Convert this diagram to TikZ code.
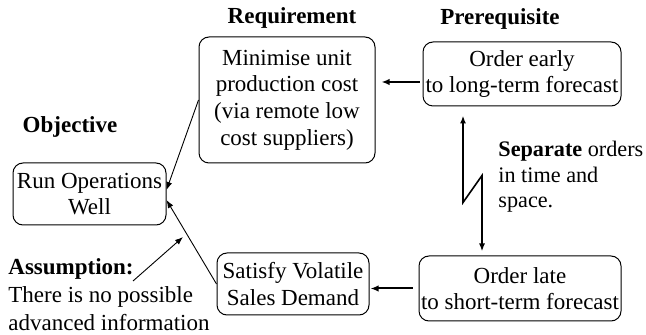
\documentclass[tikz,border=0pt]{standalone}
\usepackage{fontspec}
\setmainfont{Liberation Serif}
\usetikzlibrary{arrows.meta}
\begin{document}
\begin{tikzpicture}[x=0.5pt,y=-0.5pt]
\tikzstyle{every node}+=[inner sep=0pt, font=\fontsize{11.5}{13.3}\selectfont]
\tikzstyle{box}=[draw, rounded corners=5pt, align=center, line width=0.5pt]
\tikzstyle{heading}=[font=\fontsize{11.5}{13.3}\selectfont\bfseries]
\tikzstyle{thinarrow}=[-{Latex[length=4pt,width=3pt]}, line width=0.45pt]
\tikzstyle{boldarrow}=[-{Latex[length=4pt,width=3.2pt]}, line width=1pt]
\tikzstyle{zigarrow}=[{Latex[length=4pt,width=3pt]}-{Latex[length=4pt,width=3pt]}, line width=0.8pt]
\useasboundingbox (0,0) rectangle (646,335);
% boxes
\node [box, minimum width=76.5pt, minimum height=31pt] (ops) at (89.5,194) {Run Operations\\Well};
\node [box, minimum width=88pt, minimum height=63pt] (req) at (287,100) {Minimise unit\\production cost\\(via remote low\\cost suppliers)};
\node [box, minimum width=99pt, minimum height=32pt] (early) at (522,74) {Order early\\to long-term forecast};
\node [box, minimum width=101pt, minimum height=32.5pt] (late) at (520,288.5) {Order late\\to short-term forecast};
\node [box, minimum width=76pt, minimum height=31pt] (sat) at (293,284) {Satisfy Volatile\\Sales Demand};
% labels
\node [heading] (objective) at (70,127) {Objective};
\node [heading] (requirement) at (292,18) {Requirement};
\node [heading] (prerequisite) at (500,19) {Prerequisite};
\node [anchor=base west, align=left, font=\fontsize{11.1}{12.8}\selectfont] (separate) at (498,208) {\textbf{Separate} orders\\in time and\\space.};
\node [anchor=base west, align=left, font=\fontsize{11.5}{13.8}\selectfont] (assumption) at (8,330) {\textbf{Assumption:}\\There is no possible\\advanced information};
% arrows
\draw [boldarrow, shorten <=1.5pt, shorten >=3pt] ([yshift=-4pt]early.west) -- ([yshift=-4pt]early.west -| req.east);
\draw [boldarrow, shorten <=3pt, shorten >=0.5pt] (late.west) -- (late.west -| sat.east);
\draw [thinarrow] (req.west) -- ([yshift=2pt]ops.east);
\draw [thinarrow] (sat.west) -- ([yshift=-3pt]ops.east);
\draw [zigarrow] ([xshift=-29.5pt,yshift=-4.5pt]early.south) -- ++(0,87) -- ++(19,-27) -- ([xshift=-19pt,yshift=2pt]late.north);
\coordinate (asmTail) at (133,281);
\coordinate (asmTip) at (183,237);
\draw [thinarrow] (asmTail) -- (asmTip);
\end{tikzpicture}
\end{document}
